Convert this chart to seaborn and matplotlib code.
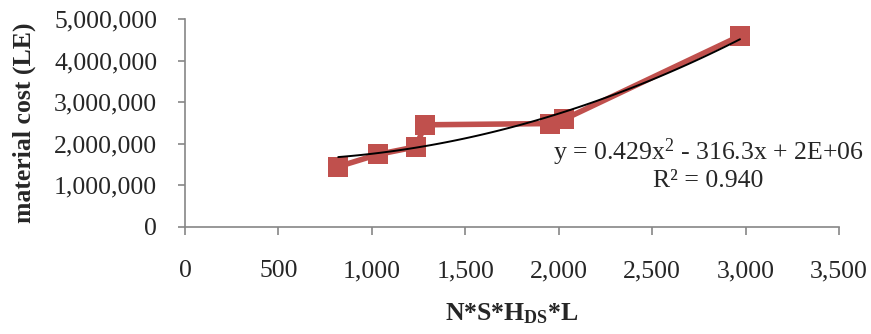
import numpy as np
import pandas as pd
import matplotlib
matplotlib.use("Agg")
import matplotlib.pyplot as plt
import seaborn as sns

# data
nshl = [820, 1035, 1236, 1284, 1953, 2030, 2970]
cost = [1453000, 1750000, 1930000, 2460000, 2490000, 2595000, 4600000]
eq_text = "y = 0.429x$^{2}$ - 316.3x + 2E+06\nR\u00b2 = 0.940"
x_ticks = [0, 500, 1000, 1500, 2000, 2500, 3000, 3500]
y_ticks = [0, 1000000, 2000000, 3000000, 4000000, 5000000]

df = pd.DataFrame({"nshl": nshl, "cost": cost})

sns.set_theme(style="white")
plt.rcParams["font.family"] = ["Liberation Serif", "DejaVu Serif"]
plt.rcParams["mathtext.fontset"] = "custom"
plt.rcParams["mathtext.rm"] = "Liberation Serif"
plt.rcParams["mathtext.it"] = "Liberation Serif"
plt.rcParams["mathtext.bf"] = "Liberation Serif:bold"

fig = plt.figure(figsize=(8.71, 3.34), dpi=100)
ax = fig.add_axes([0.2124, 0.3204, 0.7509, 0.6218])

sns.lineplot(data=df, x="nshl", y="cost", sort=False, color="#C0504D",
             linewidth=4, marker="s", markersize=14, markeredgewidth=0, ax=ax)
sns.regplot(data=df, x="nshl", y="cost", order=2, scatter=False, ci=None,
            color="black", line_kws={"linewidth": 1.4}, ax=ax)

ax.set_xlim(0, 3500)
ax.set_ylim(0, 5000000)
ax.set_xticks(x_ticks)
ax.set_yticks(y_ticks)
ax.set_xticklabels([f"{v:,}" for v in x_ticks])
ax.set_yticklabels([f"{v:,}" for v in y_ticks])

for s in ["top", "right"]:
    ax.spines[s].set_visible(False)
for s in ["left", "bottom"]:
    ax.spines[s].set_color("#868686")
    ax.spines[s].set_linewidth(1.2)

ax.tick_params(axis="x", direction="out", length=6, width=1.2, color="#868686",
               labelsize=18.5, pad=18, bottom=True)
ax.tick_params(axis="y", direction="out", length=5, width=1.2, color="#868686",
               labelsize=18.5, pad=15, left=True)

ax.set_xlabel(r"N*S*$\mathbf{H_{DS}}$*L", fontsize=18.5, fontweight="bold",
              labelpad=14)
ax.set_ylabel("material cost (LE)", fontsize=18.5, fontweight="bold", labelpad=13)

ax.text(0.80, 0.303, eq_text, transform=ax.transAxes, ha="center", va="center",
        multialignment="center", fontsize=18.5, linespacing=1.1)

fig.savefig("out.png", dpi=100)
